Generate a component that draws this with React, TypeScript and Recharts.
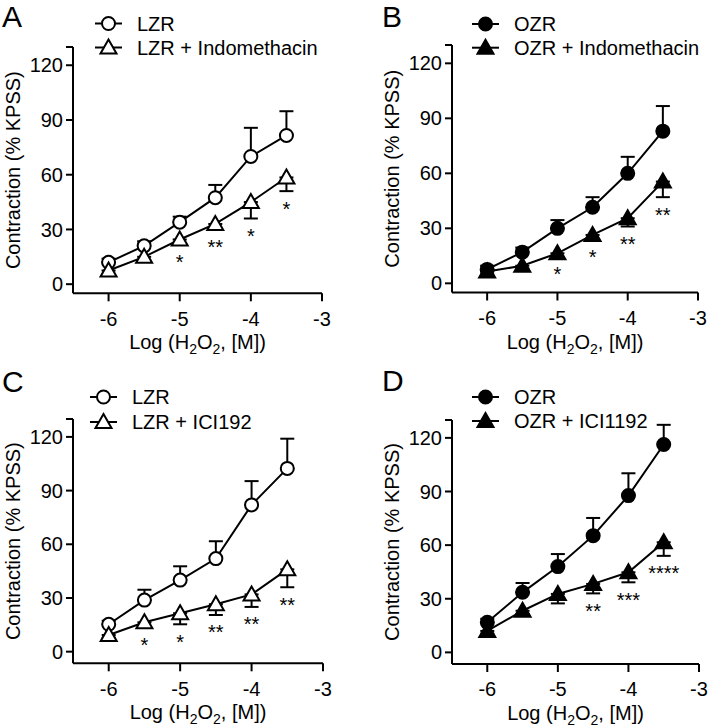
import React from 'react';
import { LineChart, Line, XAxis, YAxis, ErrorBar, Legend, LabelList, Label } from 'recharts';

// concentrations, log [M]
const doses = [-6, -5.5, -5, -4.5, -4, -3.5];
const xTicks = [-6, -5, -4, -3];
const yTicks = [0, 30, 60, 90, 120, 130];

// A: LZR vs LZR + Indomethacin
const aNames = ['LZR', 'LZR + Indomethacin'];
const aControl = [12, 21, 34, 47.4, 70, 81.5];
const aControlSem = [2, 2.5, 3, 7, 15.7, 13.3];
const aTreated = [7.5, 15, 24.5, 33, 45, 58.5];
const aTreatedSem = [2, 2, 3, 3, 9, 7.5];
const aStars = ['', '', '*', '**', '*', '*'];

// B: OZR vs OZR + Indomethacin
const bNames = ['OZR', 'OZR + Indomethacin'];
const bControl = [7.6, 17, 30, 41.5, 60, 83];
const bControlSem = [2, 2.5, 4.5, 5.5, 9, 13.7];
const bTreated = [6.4, 9.6, 16.4, 26.4, 35.5, 55.5];
const bTreatedSem = [1.5, 1.5, 2, 2.5, 4.5, 8.5];
const bStars = ['', '', '*', '*', '**', '**'];

// C: LZR vs LZR + ICI192
const cNames = ['LZR', 'LZR + ICI192'];
const cControl = [15.3, 28.8, 40, 52, 82, 102.4];
const cControlSem = [2, 5.8, 7.7, 9.7, 13.3, 16.6];
const cTreated = [9.3, 16.4, 21.5, 26.5, 32, 46];
const cTreatedSem = [1.5, 3, 6.2, 6, 7, 10];
const cStars = ['', '*', '*', '**', '**', '**'];

// D: OZR vs OZR + ICI1192
const dNames = ['OZR', 'OZR + ICI1192'];
const dControl = [16.8, 33.6, 48, 65.3, 87.7, 116.3];
const dControlSem = [2, 5.2, 7, 9.9, 12.5, 11];
const dTreated = [12, 23.3, 32.7, 38.3, 44.8, 61.6];
const dTreatedSem = [1.5, 2, 5.3, 5.3, 5.6, 7.6];
const dStars = ['', '', '', '**', '***', '****'];

const FONT = '"Liberation Sans", Arial, Helvetica, sans-serif';

const buildRows = (ctrl: number[], ctrlSem: number[], trt: number[], trtSem: number[], stars: string[]) =>
  doses.map((x, i) => ({
    x,
    ctrl: ctrl[i],
    ctrlErr: [0, ctrlSem[i]],
    trt: trt[i],
    trtErr: [trtSem[i], 0],
    starAt: trt[i] - trtSem[i],
    star: stars[i],
  }));

const panels = [
  {
    letter: 'A', names: aNames, filled: false, rows: buildRows(aControl, aControlSem, aTreated, aTreatedSem, aStars),
    left: 0, top: 0, mTop: 47, mRight: 32, yW: 73, mBottom: 10.7, yMin: -5,
    letterX: 2, letterY: 27, keyX: 95, keyY: [23.5, 47.5], yLabelX: 20,
  },
  {
    letter: 'B', names: bNames, filled: true, rows: buildRows(bControl, bControlSem, bTreated, bTreatedSem, bStars),
    left: 354, top: 0, mTop: 45, mRight: 10, yW: 98, mBottom: 11.5, yMin: -5,
    letterX: 28, letterY: 27, keyX: 118, keyY: [24, 47.7], yLabelX: 45,
  },
  {
    letter: 'C', names: cNames, filled: false, rows: buildRows(cControl, cControlSem, cTreated, cTreatedSem, cStars),
    left: 0, top: 364, mTop: 55, mRight: 31, yW: 73, mBottom: 4.7, yMin: -6.5,
    letterX: 2, letterY: 28, keyX: 90, keyY: [33, 58], yLabelX: 20,
  },
  {
    letter: 'D', names: dNames, filled: true, rows: buildRows(dControl, dControlSem, dTreated, dTreatedSem, dStars),
    left: 354, top: 364, mTop: 56, mRight: 9, yW: 98, mBottom: 4, yMin: -6.5,
    letterX: 28, letterY: 27, keyX: 118, keyY: [33, 57], yLabelX: 45,
  },
];

const circle = (cx: number, cy: number, filled: boolean, key?: any) => (
  <circle key={key} cx={cx} cy={cy} r={6.5} fill={filled ? '#000' : '#fff'} stroke="#000" strokeWidth={2} />
);

const triangle = (cx: number, cy: number, filled: boolean, key?: any) => (
  <polygon
    key={key}
    points={`${cx},${cy - 8} ${cx - 8},${cy + 6} ${cx + 8},${cy + 6}`}
    fill={filled ? '#000' : '#fff'}
    stroke="#000"
    strokeWidth={2}
    strokeLinejoin="miter"
  />
);

const StarLabel = (props: any) => {
  const { x, y, value } = props;
  if (!value || x == null || y == null) return null;
  return (
    <text x={x} y={y + 24.5} textAnchor="middle" fontSize={20} fill="#000" fontFamily={FONT}>
      {value}
    </text>
  );
};

const PanelKey = ({ p }: { p: any }) => (
  <svg width={354} height={70} style={{ display: 'block', overflow: 'visible' }} fontFamily={FONT}>
    <text x={p.letterX} y={p.letterY} fontSize={30} fill="#000">{p.letter}</text>
    {p.names.map((name: string, i: number) => {
      const cy = p.keyY[i];
      const cx = p.keyX + 13.5;
      return (
        <g key={name}>
          <line x1={p.keyX} x2={p.keyX + 27} y1={cy} y2={cy} stroke="#000" strokeWidth={2} />
          {i === 0 ? circle(cx, cy, p.filled) : triangle(cx, cy, p.filled)}
          <text x={p.keyX + 42} y={cy + 7} fontSize={20} fill="#000">{name}</text>
        </g>
      );
    })}
  </svg>
);

const Panel = ({ p }: { p: any }) => (
  <div style={{ position: 'absolute', left: p.left, top: p.top }}>
    <LineChart
      width={354}
      height={364}
      data={p.rows}
      margin={{ top: p.mTop, right: p.mRight, left: 0, bottom: p.mBottom }}
    >
      <XAxis
        type="number"
        dataKey="x"
        domain={[-6.5, -3]}
        ticks={xTicks}
        interval={0}
        height={60}
        tickSize={8}
        tickMargin={10}
        axisLine={{ stroke: '#000', strokeWidth: 2 }}
        tickLine={{ stroke: '#000', strokeWidth: 2 }}
        tick={{ fill: '#000', fontSize: 20, fontFamily: FONT }}
      >
        <Label
          content={(lp: any) => {
            const vb = lp.viewBox || {};
            return (
              <text x={vb.x + vb.width / 2} y={vb.y + 56} textAnchor="middle" fontSize={20} fill="#000" fontFamily={FONT}>
                Log (H<tspan dy={5} fontSize={14}>2</tspan>
                <tspan dy={-5}>O</tspan>
                <tspan dy={5} fontSize={14}>2</tspan>
                <tspan dy={-5}>, [M])</tspan>
              </text>
            );
          }}
        />
      </XAxis>
      <YAxis
        type="number"
        domain={[p.yMin, 130]}
        ticks={yTicks}
        interval={0}
        width={p.yW}
        tickSize={7}
        tickMargin={3}
        tickFormatter={(v: number) => (v === 130 ? '' : String(v))}
        axisLine={{ stroke: '#000', strokeWidth: 2 }}
        tickLine={{ stroke: '#000', strokeWidth: 2 }}
        tick={{ fill: '#000', fontSize: 20, fontFamily: FONT }}
      >
        <Label
          content={(lp: any) => {
            const vb = lp.viewBox || {};
            return (
              <text
                transform={`translate(${vb.x + p.yLabelX}, ${vb.y + vb.height / 2}) rotate(-90)`}
                textAnchor="middle"
                fontSize={20}
                fill="#000"
                fontFamily={FONT}
              >
                Contraction (% KPSS)
              </text>
            );
          }}
        />
      </YAxis>
      <Legend
        layout="vertical"
        align="center"
        verticalAlign="middle"
        wrapperStyle={{ left: 0, top: 0, width: 354, height: 70 }}
        content={() => <PanelKey p={p} />}
      />
      <Line
        type="linear"
        dataKey="ctrl"
        name={p.names[0]}
        stroke="#000"
        strokeWidth={2}
        isAnimationActive={false}
        activeDot={false}
        dot={(d: any) => circle(d.cx, d.cy, p.filled, `c${d.index}`)}
      >
        <ErrorBar dataKey="ctrlErr" direction="y" width={7} stroke="#000" strokeWidth={2} isAnimationActive={false} />
      </Line>
      <Line
        type="linear"
        dataKey="trt"
        name={p.names[1]}
        stroke="#000"
        strokeWidth={2}
        isAnimationActive={false}
        activeDot={false}
        dot={(d: any) => triangle(d.cx, d.cy, p.filled, `t${d.index}`)}
      >
        <ErrorBar dataKey="trtErr" direction="y" width={7} stroke="#000" strokeWidth={2} isAnimationActive={false} />
      </Line>
      <Line
        type="linear"
        dataKey="starAt"
        stroke="none"
        dot={false}
        activeDot={false}
        legendType="none"
        isAnimationActive={false}
      >
        <LabelList dataKey="star" content={StarLabel} />
      </Line>
    </LineChart>
  </div>
);

export default function App() {
  return (
    <div
      style={{
        position: 'absolute',
        left: 0,
        top: 0,
        width: 709,
        height: 728,
        background: '#fff',
        fontFamily: FONT,
        overflow: 'hidden',
      }}
    >
      {panels.map((p) => (
        <Panel key={p.letter} p={p} />
      ))}
    </div>
  );
}
